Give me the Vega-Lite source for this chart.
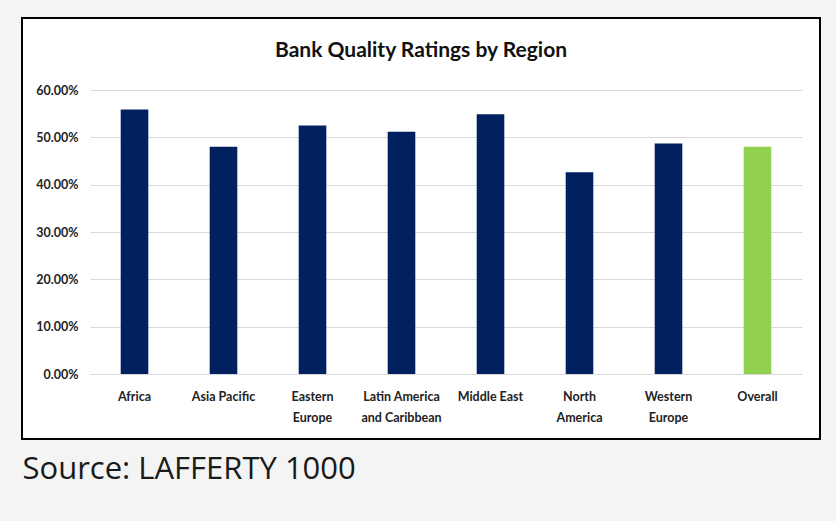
{
  "$schema": "https://vega.github.io/schema/vega-lite/v6.json",
  "width": 798,
  "height": 421,
  "autosize": {"type": "none"},
  "padding": {"left": 22, "top": 18, "right": 16, "bottom": 82},
  "background": "#f4f4f4",
  "config": {"view": {"fill": "#ffffff", "stroke": "#000000", "strokeWidth": 2}},
  "title": {
    "text": "Bank Quality Ratings by Region",
    "font": "Lato",
    "fontSize": 21,
    "fontWeight": "bold",
    "color": "#111111",
    "anchor": "middle",
    "frame": "group",
    "baseline": "alphabetic",
    "offset": -60
  },
  "data": {
    "values": [
      {"region": "Africa", "rating": 0.559},
      {"region": "Asia Pacific", "rating": 0.480},
      {"region": "Eastern Europe", "rating": 0.525},
      {"region": "Latin America and Caribbean", "rating": 0.512},
      {"region": "Middle East", "rating": 0.549},
      {"region": "North America", "rating": 0.426},
      {"region": "Western Europe", "rating": 0.487},
      {"region": "Overall", "rating": 0.480}
    ]
  },
  "mark": {"type": "bar"},
  "encoding": {
    "x": {
      "field": "region",
      "type": "nominal",
      "sort": null,
      "scale": {"range": [68, 780], "paddingInner": 0.69, "paddingOuter": 0.345},
      "axis": {
        "orient": "bottom",
        "offset": -65,
        "labelAngle": 0,
        "labelExpr": "datum.label == 'Eastern Europe' ? ['Eastern', 'Europe'] : datum.label == 'Latin America and Caribbean' ? ['Latin America', 'and Caribbean'] : datum.label == 'North America' ? ['North', 'America'] : datum.label == 'Western Europe' ? ['Western', 'Europe'] : datum.label",
        "labelFont": "Lato",
        "labelFontSize": 12.5,
        "labelFontWeight": "bold",
        "labelColor": "#222222",
        "labelLineHeight": 21,
        "labelPadding": 16,
        "labelBaseline": "top",
        "labelLimit": 200,
        "ticks": false,
        "domainColor": "#d9d9d9",
        "domainWidth": 1,
        "title": "Source: LAFFERTY 1000",
        "titleFont": "Open Sans",
        "titleFontSize": 31,
        "titleFontWeight": "normal",
        "titleColor": "#1a1a1a",
        "titleAlign": "left",
        "titleAnchor": "start",
        "titleBaseline": "alphabetic",
        "titleX": 0,
        "titleY": 104
      }
    },
    "y": {
      "field": "rating",
      "type": "quantitative",
      "scale": {"domain": [0, 0.6], "range": [356, 72]},
      "axis": {
        "offset": -68,
        "format": ".2%",
        "values": [0, 0.1, 0.2, 0.3, 0.4, 0.5, 0.6],
        "domain": false,
        "ticks": false,
        "labelPadding": 12,
        "labelFont": "Lato",
        "labelFontSize": 12.5,
        "labelFontWeight": "bold",
        "labelColor": "#222222",
        "gridColor": "#d9d9d9",
        "gridWidth": 1,
        "title": null
      }
    },
    "color": {
      "condition": {"test": "datum.region === 'Overall'", "value": "#92d050"},
      "value": "#002060"
    }
  }
}
